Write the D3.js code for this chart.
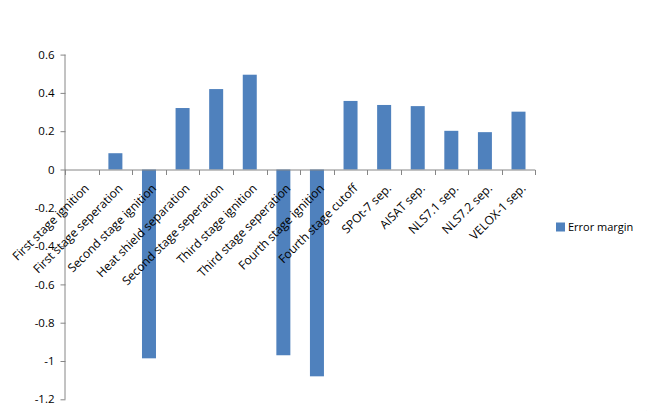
<!doctype html>
<html>
<head>
<meta charset="utf-8">
<style>
  body { margin: 0; background: #fff; }
  text { font-family: "Open Sans", "Liberation Sans", sans-serif; fill: #000; }
</style>
<script src="https://d3js.org/d3.v7.min.js"></script>
</head>
<body>
<svg width="647" height="411"></svg>
<script>
var stages = ["First stage ignition", "First stage seperation", "Second stage ignition",
  "Heat shield separation", "Second stage seperation", "Third stage ignition",
  "Third stage seperation", "Fourth stage ignition", "Fourth stage cutoff",
  "SPOt-7 sep.", "AISAT sep.", "NLS7.1 sep.", "NLS7.2 sep.", "VELOX-1 sep."]
var errorMargin = [0, 0.085, -0.986, 0.321, 0.42, 0.495, -0.97, -1.08, 0.358, 0.337, 0.331, 0.202, 0.195, 0.302]
var yTicks = [-1.2, -1, -0.8, -0.6, -0.4, -0.2, 0, 0.2, 0.4, 0.6]
var seriesName = "Error margin"

var svg = d3.select("svg")

// faint chart border, mostly outside the window like the original
svg.append("rect")
  .attr("x", -5).attr("y", -5).attr("width", 655).attr("height", 419)
  .attr("rx", 10).attr("fill", "none").attr("stroke", "#b9cad6").attr("stroke-width", 1)

var xb = d3.scaleBand().domain(stages).range([65, 535.3])
var y = d3.scaleLinear().domain([-1.2, 0.6]).range([399.3, 54.6])

var axisColor = "#868686"

// bars
svg.selectAll(".bar")
  .data(errorMargin)
  .enter().append("rect")
  .attr("class", "bar")
  .attr("fill", "#4f81bd")
  .attr("x", function (d, i) { return xb(stages[i]) + xb.bandwidth() / 2 - 7 })
  .attr("width", 14)
  .attr("y", function (d) { return y(Math.max(0, d)) })
  .attr("height", function (d) { return Math.abs(y(d) - y(0)) })

// y axis
var yAxis = svg.append("g")
  .attr("transform", "translate(65.5,0)")
  .call(d3.axisLeft(y).tickValues(yTicks).tickSize(5).tickPadding(6)
    .tickFormat(function (d) { return String(+d.toFixed(1)) }))
yAxis.selectAll("path, line").attr("stroke", axisColor)
yAxis.select(".domain").attr("d", "M-0.5," + y(-1.2) + "V" + y(0.6))
yAxis.selectAll("text").style("font-size", "11.5px").style("font-family", "'Open Sans', sans-serif")

// x axis at zero
var xAxis = svg.append("g").attr("transform", "translate(0," + (y(0) + 0.5) + ")")
xAxis.append("line").attr("x1", 65).attr("x2", 535.3).attr("stroke", axisColor)
xAxis.selectAll(".tk")
  .data(stages.concat(["end"]))
  .enter().append("line")
  .attr("x1", function (d, i) { return Math.round(65 + i * xb.step()) + 0.5 })
  .attr("x2", function (d, i) { return Math.round(65 + i * xb.step()) + 0.5 })
  .attr("y1", 0).attr("y2", 5).attr("stroke", axisColor)

xAxis.selectAll(".lbl")
  .data(stages)
  .enter().append("text")
  .attr("text-anchor", "end")
  .style("font-size", "12px")
  .attr("transform", function (d) {
    return "translate(" + (xb(d) + xb.bandwidth() / 2 + 5) + ",16) rotate(-45)"
  })
  .attr("dy", "0.35em")
  .text(function (d) { return d })

// legend
svg.append("rect").attr("x", 556).attr("y", 222.5).attr("width", 9).attr("height", 9).attr("fill", "#4f81bd")
svg.append("text").attr("x", 568).attr("y", 227).attr("dy", "0.35em")
  .style("font-size", "11px").text(seriesName)
</script>
</body>
</html>
